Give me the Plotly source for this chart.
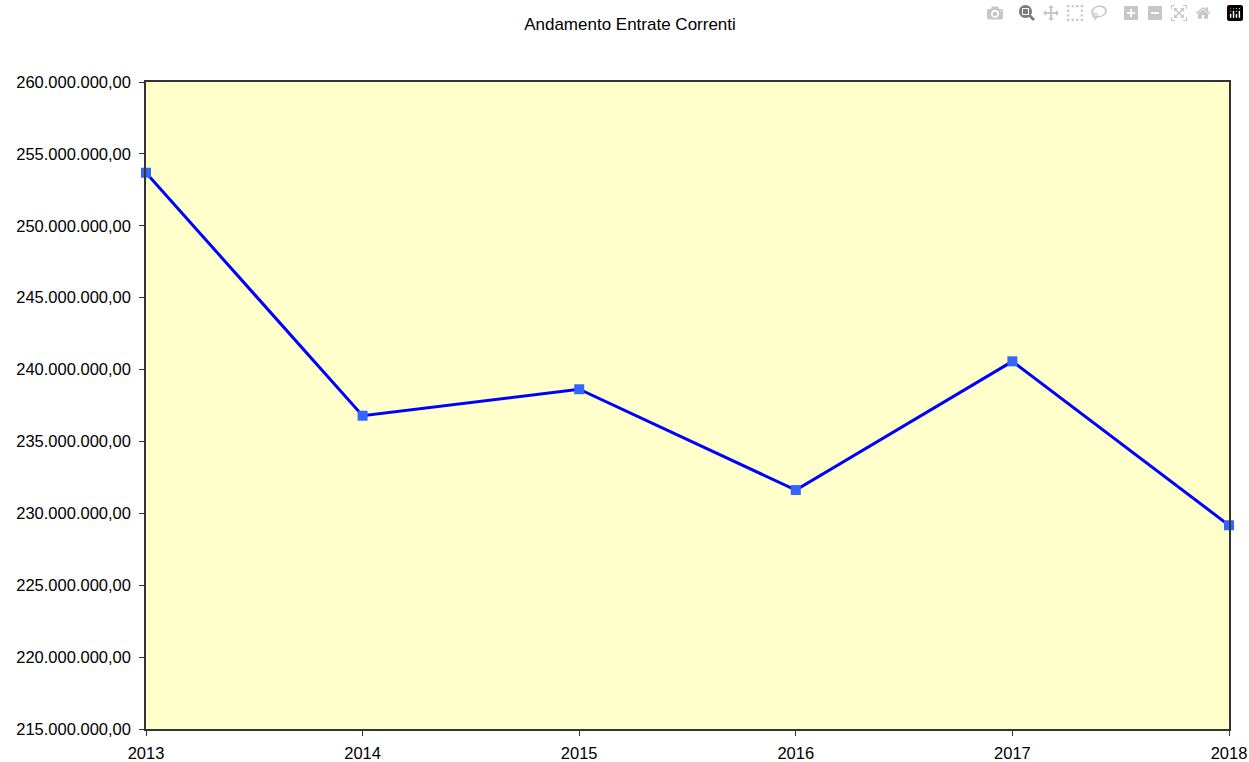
import plotly.graph_objects as go

years = [2013, 2014, 2015, 2016, 2017, 2018]
entrate = [253690000, 236790000, 238630000, 231620000, 240570000, 229170000]
y_ticks = [215000000, 220000000, 225000000, 230000000, 235000000, 240000000,
           245000000, 250000000, 255000000, 260000000]


def fmt_it(v):
    s = f"{v:,.2f}"
    return s.replace(",", "X").replace(".", ",").replace("X", ".")


fig = go.Figure()
fig.add_trace(go.Scatter(
    x=years, y=entrate, mode="lines+markers",
    line=dict(color="#0000FF", width=3),
    marker=dict(symbol="square", size=10, color="#3366FF"),
    cliponaxis=False, showlegend=False,
))

fig.update_layout(
    width=1249, height=762,
    margin=dict(l=146, r=20, t=82, b=33, autoexpand=False),
    paper_bgcolor="white",
    plot_bgcolor="#FFFFCC",
    font=dict(family="Liberation Sans, Arial, sans-serif", color="black"),
    title=dict(text="Andamento Entrate Correnti", x=630 / 1249, xanchor="center",
               y=1 - 24 / 762, yanchor="middle", font=dict(size=17)),
)
fig.update_xaxes(
    range=[2013, 2018], tickvals=years, ticktext=[str(y) for y in years],
    showgrid=False, zeroline=False, showline=True, linecolor="#333333", linewidth=1.5,
    mirror=True, ticks="outside", ticklen=5, tickcolor="#333333", automargin=False,
    tickfont=dict(size=16.5), ticklabelstandoff=3,
)
fig.update_yaxes(
    range=[215000000, 260000000], tickvals=y_ticks, ticktext=[fmt_it(v) for v in y_ticks],
    showgrid=False, zeroline=False, showline=True, linecolor="#333333", linewidth=1.5,
    mirror=True, ticks="outside", ticklen=5, tickcolor="#333333", automargin=False,
    tickfont=dict(size=16.5), ticklabelstandoff=5,
)

fig.write_html("out.html", post_script="document.body.style.margin='0px';")
